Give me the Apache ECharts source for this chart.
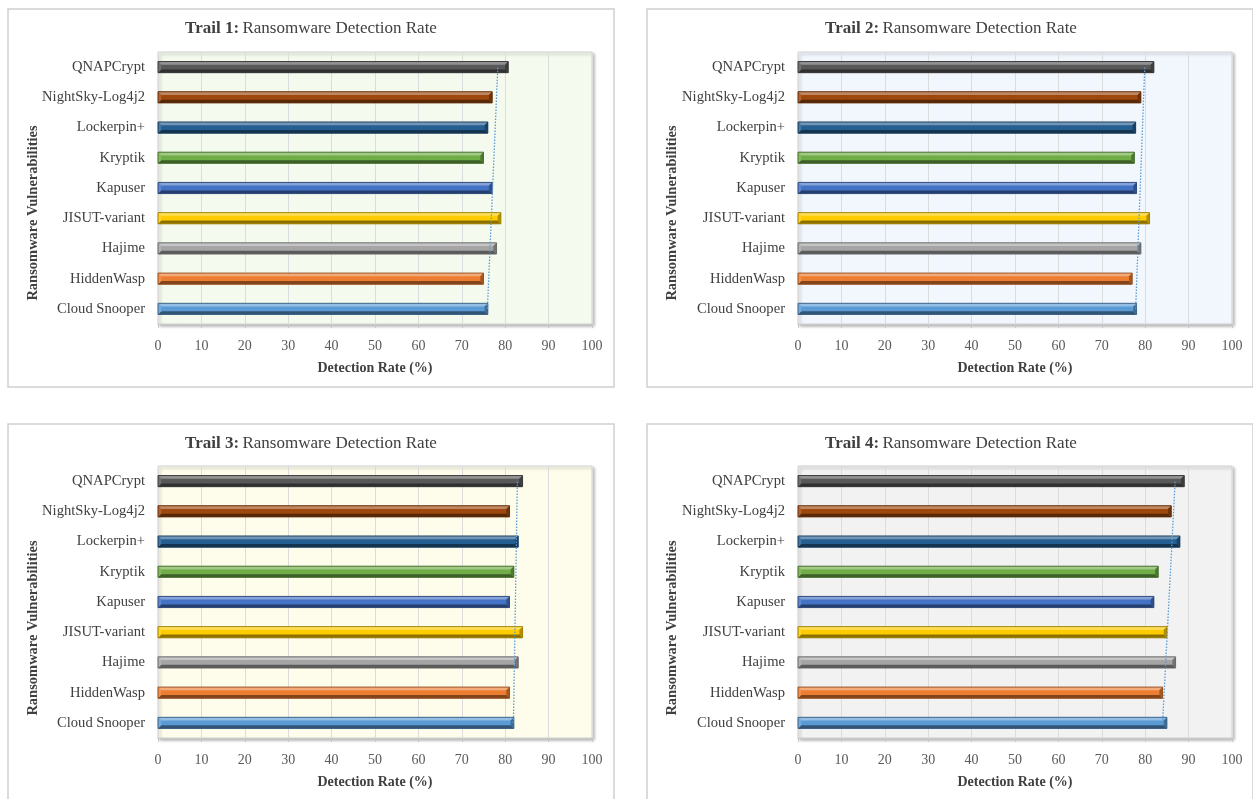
<!DOCTYPE html>
<html>
<head>
<meta charset="utf-8">
<script src="https://cdn.jsdelivr.net/npm/echarts/dist/echarts.min.js"></script>
<style>
  html, body { margin: 0; padding: 0; background: #ffffff; }
  #chart { width: 1253px; height: 799px; }
</style>
</head>
<body>
<div id="chart"></div>
<script>
// Ransomware families, listed bottom-to-top as they appear on each category axis
const categories = ['Cloud Snooper', 'HiddenWasp', 'Hajime', 'JISUT-variant', 'Kapuser',
                    'Kryptik', 'Lockerpin+', 'NightSky-Log4j2', 'QNAPCrypt'];

// Detection rate (%) per family for each trail
const trail1 = [76, 75, 78, 79, 77, 75, 76, 77, 80.7];
const trail2 = [78, 77, 79, 81, 78, 77.5, 77.8, 79, 82];
const trail3 = [82, 81, 83, 84, 81, 82, 83, 81, 84];
const trail4 = [85, 84, 87, 85, 82, 83, 88, 86, 89];

// Linear trendline end points: [at Cloud Snooper, at QNAPCrypt]
const trend1 = [75.9, 78.3];
const trend2 = [77.8, 79.9];
const trend3 = [81.9, 82.8];
const trend4 = [84.0, 86.9];

const trailTitles = ['Trail 1:', 'Trail 2:', 'Trail 3:', 'Trail 4:'];
const titleText = 'Ransomware Detection Rate';
const xAxisTitle = 'Detection Rate (%)';
const yAxisTitle = 'Ransomware Vulnerabilities';

// One fill colour per family (same order as categories)
const barColors = ['#5b9bd5', '#ed7d31', '#a5a5a5', '#ffcc00', '#4472c4',
                   '#70ad47', '#255e91', '#9e480e', '#585858'];

const FONT = '"Liberation Serif", "DejaVu Serif", serif';

function mix(hex, target, t) {
  const a = parseInt(hex.slice(1), 16), b = parseInt(target.slice(1), 16);
  const r = Math.round(((a >> 16) & 255) * (1 - t) + ((b >> 16) & 255) * t);
  const g = Math.round(((a >> 8) & 255) * (1 - t) + ((b >> 8) & 255) * t);
  const bl = Math.round((a & 255) * (1 - t) + (b & 255) * t);
  return 'rgb(' + r + ',' + g + ',' + bl + ')';
}

// Bevelled bar: a flat face framed by lit/shaded facets
function renderBevelBar(params, api) {
  const idx = api.value(1);
  const p0 = api.coord([0, idx]);
  const p1 = api.coord([api.value(0), idx]);
  const band = api.size([0, 1])[1];
  const h = band * 0.37;
  const x0 = p0[0], x1 = p1[0];
  const y0 = p0[1] - h / 2, y1 = p0[1] + h / 2;
  const b = Math.min(3.2, h / 3);
  const c = barColors[params.dataIndex];
  return {
    type: 'group',
    children: [
      { type: 'rect', shape: { x: x0, y: y0, width: x1 - x0, height: h },
        style: { fill: c } },
      { type: 'polygon', shape: { points: [[x0, y0], [x1, y0], [x1 - b, y0 + b], [x0 + b, y0 + b]] },
        style: { fill: mix(c, '#ffffff', 0.35) } },
      { type: 'polygon', shape: { points: [[x0, y1], [x1, y1], [x1 - b, y1 - b], [x0 + b, y1 - b]] },
        style: { fill: mix(c, '#000000', 0.45) } },
      { type: 'polygon', shape: { points: [[x0, y0], [x0 + b, y0 + b], [x0 + b, y1 - b], [x0, y1]] },
        style: { fill: mix(c, '#ffffff', 0.15) } },
      { type: 'polygon', shape: { points: [[x1, y0], [x1 - b, y0 + b], [x1 - b, y1 - b], [x1, y1]] },
        style: { fill: mix(c, '#000000', 0.3) } },
      { type: 'rect', shape: { x: x0, y: y0, width: x1 - x0, height: h },
        style: { fill: 'none', stroke: mix(c, '#000000', 0.4), lineWidth: 0.9 } }
    ]
  };
}

const panels = [
  { data: trail1, trend: trend1, bg: '#f4fbee', box: [8, 9], plot: [158, 52] },
  { data: trail2, trend: trend2, bg: '#f2f6fd', box: [647, 9], plot: [798, 52] },
  { data: trail3, trend: trend3, bg: '#fefdec', box: [8, 424], plot: [158, 466] },
  { data: trail4, trend: trend4, bg: '#f2f2f2', box: [647, 424], plot: [798, 466] }
];
const PLOT_W = 434, PLOT_H = 272, BOX_W = 606, BOX_H = 378;

const grids = [], xAxes = [], yAxes = [], series = [], graphics = [];

panels.forEach((p, i) => {
  grids.push({
    left: p.plot[0], top: p.plot[1], width: PLOT_W, height: PLOT_H,
    show: true, backgroundColor: p.bg, borderColor: '#d4d4d4', borderWidth: 1,
    shadowColor: 'rgba(0,0,0,0.28)', shadowBlur: 3, shadowOffsetX: 2, shadowOffsetY: 2
  });
  xAxes.push({
    type: 'value', gridIndex: i, min: 0, max: 100, interval: 10,
    name: xAxisTitle, nameLocation: 'middle', nameGap: 37,
    nameTextStyle: { fontFamily: FONT, fontSize: 14, fontWeight: 'bold', color: '#404040' },
    axisLine: { show: true, lineStyle: { color: '#c8c8c8' } },
    axisTick: { show: true, length: 4, lineStyle: { color: '#c8c8c8' } },
    minorTick: { show: true, splitNumber: 5, length: 3, lineStyle: { color: '#c8c8c8' } },
    splitLine: { show: true, lineStyle: { color: '#dcdcdc', width: 1 } },
    axisLabel: { fontFamily: FONT, fontSize: 14, color: '#595959', margin: 15 }
  });
  yAxes.push({
    type: 'category', gridIndex: i, data: categories,
    axisLine: { show: false }, axisTick: { show: false },
    axisLabel: { fontFamily: FONT, fontSize: 14.6, color: '#404040', margin: 13 }
  });
  series.push({
    type: 'custom', xAxisIndex: i, yAxisIndex: i,
    data: p.data.map((v, k) => [v, k]),
    encode: { x: 0, y: 1 },
    renderItem: renderBevelBar, z: 3
  });
  series.push({
    type: 'line', xAxisIndex: i, yAxisIndex: i,
    data: [[p.trend[0], categories[0]], [p.trend[1], categories[categories.length - 1]]],
    symbol: 'none', silent: true, z: 5,
    lineStyle: { color: '#5b9bd5', width: 1.3, type: [1.5, 1.5] }
  });

  // panel frame
  graphics.push({
    type: 'rect', z: -1,
    shape: { x: p.box[0], y: p.box[1], width: BOX_W, height: BOX_H },
    style: { fill: 'none', stroke: '#d0d0d0', lineWidth: 1.5 }
  });
  // panel title
  graphics.push({
    type: 'text', z: 10,
    x: p.plot[0] + 153, y: p.box[1] + 20,
    style: {
      text: '{b|' + trailTitles[i] + '} {n|' + titleText + '}',
      align: 'center', verticalAlign: 'middle',
      rich: {
        b: { fontFamily: FONT, fontSize: 17, fontWeight: 'bold', fill: '#404040' },
        n: { fontFamily: FONT, fontSize: 17, fill: '#404040' }
      }
    }
  });
  // vertical axis title
  graphics.push({
    type: 'text', z: 10,
    x: p.box[0] + 25, y: p.box[1] + 204, rotation: Math.PI / 2,
    style: {
      text: yAxisTitle, align: 'center', verticalAlign: 'middle',
      fontFamily: FONT, fontSize: 14.5, fontWeight: 'bold', fill: '#404040'
    }
  });
});

const chart = echarts.init(document.getElementById('chart'), null, { renderer: 'canvas' });
chart.setOption({
  backgroundColor: '#ffffff',
  animation: false,
  grid: grids,
  xAxis: xAxes,
  yAxis: yAxes,
  series: series,
  graphic: graphics
});
</script>
</body>
</html>
